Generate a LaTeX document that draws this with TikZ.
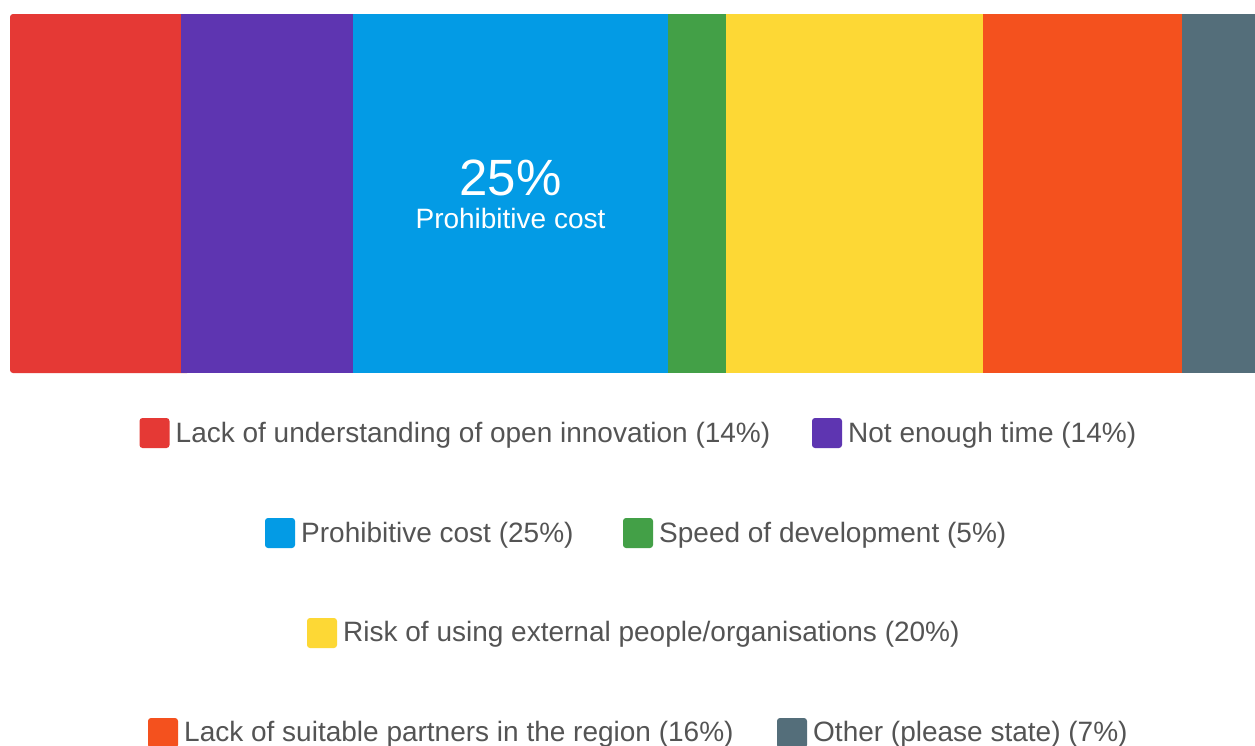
\documentclass[tikz,border=0pt]{standalone}
\usepackage{fontspec}
\setmainfont{Liberation Sans}
\definecolor{cred}{HTML}{E53935}
\definecolor{cpurple}{HTML}{5E35B1}
\definecolor{cblue}{HTML}{039BE5}
\definecolor{cgreen}{HTML}{43A047}
\definecolor{cyellow}{HTML}{FDD835}
\definecolor{corange}{HTML}{F4511E}
\definecolor{cgray}{HTML}{546E7A}
\definecolor{txt}{HTML}{545454}
\tikzset{
  seg/.style={draw=none},
  swatch/.style={rounded corners=3pt},
  legtext/.style={anchor=base west, inner sep=0pt, text=txt, font=\fontsize{28}{32}\selectfont},
}
\begin{document}
\begin{tikzpicture}[x=1pt,y=-1pt]
\useasboundingbox (0,0) rectangle (1255,745);
\clip (0,0) rectangle (1255,745);
\fill[white] (0,0) rectangle (1255,745);
% bar segments
\fill[cred, rounded corners=3pt] (10,14) rectangle (190,373);
\fill[cred] (100,14) rectangle (181.3,373);
\fill[cpurple] (181.3,14) rectangle (352.7,373);
\fill[cblue] (352.7,14) rectangle (668,373);
\fill[cgreen] (668,14) rectangle (725.5,373);
\fill[cyellow] (725.5,14) rectangle (982.7,373);
\fill[corange] (982.7,14) rectangle (1182.3,373);
\fill[cgray] (1182.3,14) rectangle (1265,373);
% center label
\node[anchor=base, inner sep=0pt, text=white, font=\fontsize{51}{56}\selectfont] (pct) at (510.5,195) {25\%};
\node[anchor=base, inner sep=0pt, text=white, font=\fontsize{28}{32}\selectfont] (lbl) at (510.5,228) {Prohibitive cost};
% legend
\fill[cred, swatch] (139.5,418) rectangle (169.5,448);
\node[legtext] (l1) at (175.5,442) {Lack of understanding of open innovation (14\%)};
\fill[cpurple, swatch] (812,418) rectangle (842,448);
\node[legtext] (l2) at (848,442) {Not enough time (14\%)};
\fill[cblue, swatch] (265,518) rectangle (295,548);
\node[legtext] (l3) at (301,542) {Prohibitive cost (25\%)};
\fill[cgreen, swatch] (623,518) rectangle (653,548);
\node[legtext] (l4) at (659,542) {Speed of development (5\%)};
\fill[cyellow, swatch] (307,618) rectangle (337,648);
\node[legtext] (l5) at (343,641) {Risk of using external people/organisations (20\%)};
\fill[corange, swatch] (148,718) rectangle (178,748);
\node[legtext] (l6) at (184,741) {Lack of suitable partners in the region (16\%)};
\fill[cgray, swatch] (777,718) rectangle (807,748);
\node[legtext] (l7) at (813,741) {Other (please state) (7\%)};
\end{tikzpicture}
\end{document}
